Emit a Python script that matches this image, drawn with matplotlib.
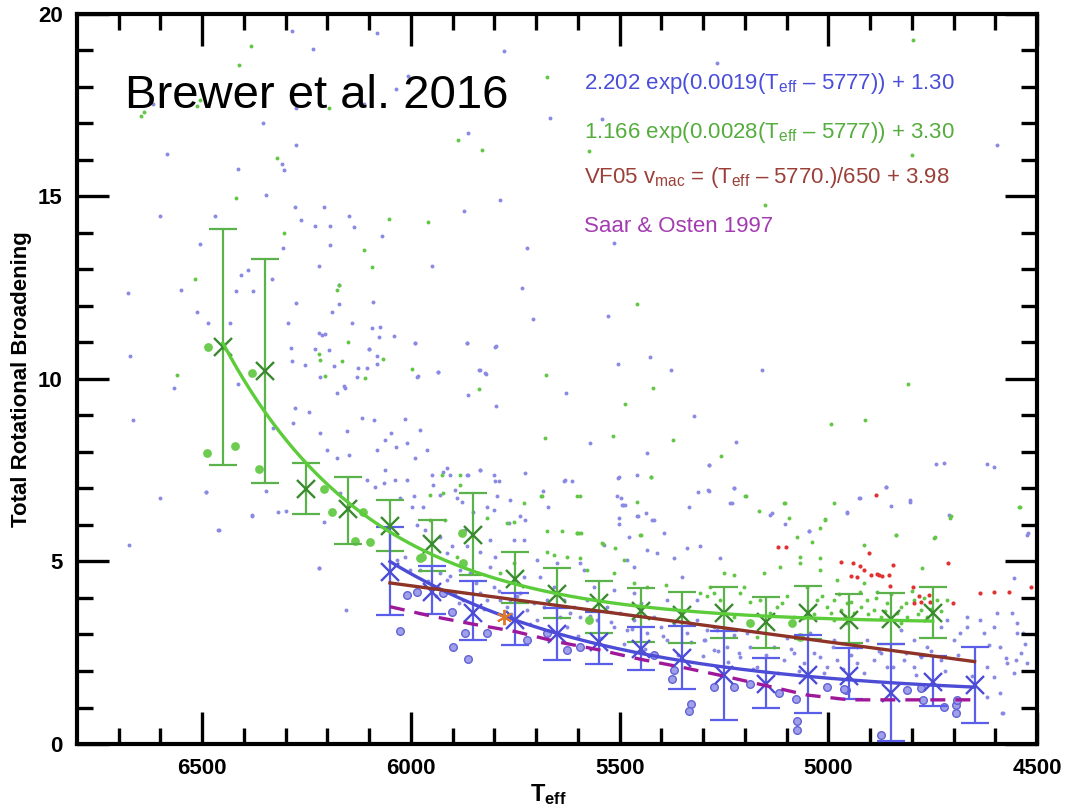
import numpy as np
import matplotlib
matplotlib.use("Agg")
import matplotlib.pyplot as plt

plt.rcParams['font.family'] = ['Liberation Sans', 'DejaVu Sans']
plt.rcParams['mathtext.fontset'] = 'custom'
plt.rcParams['mathtext.rm'] = 'Liberation Sans'
plt.rcParams['mathtext.it'] = 'Liberation Sans:italic'
plt.rcParams['mathtext.bf'] = 'Liberation Sans:bold'

# ---- individual stars (small dots) ----
blue_teff = [6284, 6080, 6235, 5778, 6113, 6035, 6006, 6274, 6617, 6354, 5862, 6584, 6309, 6303,
             6414, 6274, 6348, 5787, 6600, 6468, 6278, 6208, 6149, 6264, 6229, 6193, 6136, 6070,
             5872, 6505, 6194, 6307, 5721, 6406, 6390, 6332, 6220, 5950, 6677, 6551, 6419, 6377,
             6171, 5734, 6513, 6274, 6173, 6091, 5707, 6486, 6433, 6295, 6188, 6142, 6093, 6221,
             6212, 6205, 6076, 5990, 5866, 5797, 6672, 6287, 6229, 6196, 6099, 6126, 6284, 6253,
             6080, 5936, 5837, 5821, 5983, 6217, 6159, 6567, 6414, 5862,
             5268, 5666, 5542, 4596, 5513, 5527, 5503, 5427, 5376, 5158, 5628,
             6666, 6674, 6600, 6490, 6460, 6380, 6221, 6155,
             6491, 6381, 6461, 6221, 6347, 6318, 6298, 6277, 6245, 6329, 6281, 6217, 6201, 6177,
             6149, 6209, 6169, 6105, 6085, 6065, 6081, 6061, 6035, 6009, 5989, 5961, 5922, 5906,
             5866, 5834, 5802, 5790, 5993, 5946, 5890, 5850, 5818, 5762, 6153, 6117, 6089, 6048,
             6013, 5977, 6177, 6157, 6129, 6105, 6081, 6185, 6101, 6073, 6041, 5989, 5934, 5866,
             5822, 5798, 5795, 5834, 5985,
             6061, 6037, 6010, 5949, 5913, 5862, 5834, 5798, 5726, 5634, 5615, 5502, 5458, 5287,
             5506, 5494, 5487, 5438, 5458, 5418, 5502, 5502, 5394, 5478, 5538, 5434, 5410, 5370,
             5338, 5307, 5350, 5482, 5466, 5594, 5586, 5650, 5730, 5754, 5726, 5766, 5802, 5794,
             5738, 5810, 5870, 5866, 5834, 5798, 5913, 5901, 5930, 5965, 5985, 5997, 6025, 5970,
             5930, 5894, 5878,
             6033, 6013, 6001, 5977, 5930, 5913, 5882, 5858, 5894, 5874, 5834, 5818, 5802, 5786,
             5770, 5762, 5738, 5722, 5706, 5698, 5674, 5658, 5642, 5626, 5610, 5594, 5578, 5554,
             5530, 5514, 5498, 5482, 5466, 5434, 5418, 5402, 5386, 5370, 5338, 5314, 5295, 5275,
             5810, 5730, 5690, 5698, 5562, 5514, 5466, 5634, 5386, 5314, 5450,
             5287, 5227, 5287, 5235, 5135, 5047, 4955, 4925, 4863, 4805, 4743, 4724, 4620, 4604,
             4712, 5259, 4524, 4556,
             5291, 5267, 5299, 5275, 5243, 5211, 5187, 5171, 5131, 5107, 5083, 5059, 5019, 5003,
             4979, 4931, 4891, 4859, 4819, 4795, 4779, 4731, 4700, 4684, 4668, 4628, 4604, 4588,
             4572, 4620, 4548, 4540, 4556, 4524, 4588, 4584, 4604, 4636, 4668, 4731, 4716, 4596,
             4548, 4827, 4795, 4763, 5227, 5195, 5099, 5043, 4987, 4931, 4907, 4875,
             4620, 4583, 4550, 4534, 4522, 4862, 4805, 4850, 4927, 4956, 5141, 5104, 5046, 5222,
             5321, 5571, 5435, 5505, 5632, 5683, 5671, 5497, 5493, 5456, 5423, 5333, 5313, 5288,
             5227, 5231,
             5960, 5940, 5905, 5885, 5845, 5825, 5790, 5760, 5745, 5715, 5680, 5660, 5620, 5600,
             5570, 5545, 5520, 5490, 5470, 5440, 5395, 5360, 5330, 5300, 5265, 5240, 5215, 5180,
             5150, 5120, 5090, 5070, 5035, 5010, 4990, 4965, 4945, 4915, 4880, 4845, 4815, 4790,
             4755, 4720, 4690, 4655, 4615, 4575, 4560, 4530]
blue_vbr = [19.52, 19.47, 19.03, 18.97, 17.51, 17.92, 18.28, 17.42, 17.51, 16.99, 16.73, 16.16, 15.88, 15.71,
            15.74, 16.39, 15.04, 14.90, 14.47, 14.47, 14.70, 14.70, 14.45, 14.36, 14.17, 14.17, 14.15, 13.90,
            14.58, 13.70, 13.67, 13.58, 13.58, 12.85, 12.97, 12.73, 13.08, 13.08, 12.35, 12.44, 12.41, 12.39,
            12.58, 12.48, 11.83, 12.07, 12.05, 12.10, 11.64, 11.54, 11.54, 11.54, 11.83, 11.54, 11.39, 11.25,
            11.21, 11.23, 11.13, 10.98, 10.98, 10.89, 10.61, 10.84, 10.81, 10.79, 10.81, 10.29, 10.49, 10.38,
            10.41, 10.18, 10.25, 10.14, 10.08, 10.04, 9.79, 9.75, 9.86, 9.56,
            18.65, 17.14, 17.11, 16.41, 13.73, 11.73, 10.41, 10.59, 10.23, 10.25, 9.61,
            8.86, 5.45, 6.73, 6.91, 5.86, 6.25, 4.81, 3.67,
            6.91, 6.27, 5.86, 4.81, 6.93, 6.36, 6.38, 9.21, 9.08, 8.65, 8.79, 8.51, 8.05, 7.83,
            7.92, 6.09, 6.87, 7.23, 7.05, 7.14, 8.05, 8.33, 8.13, 8.24, 7.83, 8.05, 7.46, 7.37,
            7.37, 7.51, 7.37, 7.19, 6.78, 7.10, 6.73, 6.36, 6.50, 6.68, 8.56, 8.92, 8.88, 8.51,
            8.90, 8.60, 9.61, 9.75, 10.06, 10.29, 10.61, 10.34, 10.81, 11.43, 11.16, 10.98, 10.18, 10.98,
            10.16, 10.88, 9.26, 10.25, 10.06,
            7.51, 7.23, 7.23, 7.37, 7.55, 7.37, 7.51, 7.19, 7.42, 7.19, 7.19, 7.32, 7.37, 7.64,
            6.78, 6.55, 6.55, 6.32, 6.23, 6.12, 6.18, 6.03, 5.77, 5.68, 5.45, 5.32, 5.22, 5.09,
            5.36, 5.41, 4.58, 5.04, 4.86, 4.95, 4.77, 4.95, 5.59, 5.59, 6.14, 6.05, 6.41, 6.78,
            6.23, 5.59, 5.86, 5.41, 5.27, 5.13, 5.22, 5.41, 5.68, 5.86, 6.00, 6.50, 6.73, 6.50,
            6.82, 6.96, 6.64,
            5.04, 5.13, 4.77, 4.77, 4.68, 4.49, 4.77, 4.68, 4.13, 3.95, 4.13, 3.95, 4.31, 3.95,
            3.76, 3.95, 4.13, 3.67, 3.85, 3.40, 3.95, 4.31, 3.49, 3.21, 3.76, 3.49, 3.95, 3.40,
            3.76, 3.21, 3.58, 3.12, 3.40, 3.03, 3.49, 3.21, 2.85, 3.31, 3.03, 3.40, 2.85, 3.21,
            4.86, 4.58, 4.58, 5.04, 4.31, 4.22, 4.13, 3.95, 3.95, 3.95, 3.85,
            7.64, 7.00, 6.94, 6.61, 6.32, 5.82, 6.34, 6.73, 7.05, 6.64, 7.67, 7.69, 7.67, 7.58,
            6.27, 5.09, 5.73, 4.54,
            3.12, 3.12, 2.85, 2.58, 2.67, 2.39, 2.67, 2.12, 2.67, 2.30, 2.48, 2.21, 2.39, 2.12,
            2.30, 2.21, 2.30, 2.12, 2.30, 2.12, 2.39, 2.30, 2.85, 3.03, 3.21, 3.03, 3.21, 2.67,
            2.21, 2.12, 3.03, 2.48, 1.94, 2.21, 1.39, 0.84, 1.84, 3.40, 3.49, 3.21, 3.40, 3.58,
            3.31, 3.12, 2.85, 2.67, 2.99, 3.03, 2.90, 3.03, 2.85, 2.67, 2.85, 2.48,
            1.30, 0.84, 2.30, 3.03, 5.77, 7.05, 6.68, 6.52, 6.73, 6.32, 6.27, 6.03, 5.84, 8.28,
            8.99, 8.25, 7.96, 7.28, 7.23, 6.94, 6.48, 6.73, 6.55, 6.23, 6.14, 6.50, 6.91, 6.96,
            7.00, 6.59,
            4.45, 4.05, 4.60, 3.85, 4.40, 3.70, 4.20, 3.55, 4.05, 3.30, 3.75, 3.10, 3.60, 2.95,
            3.50, 2.90, 3.35, 2.75, 3.15, 2.60, 2.95, 2.45, 2.80, 2.40, 2.55, 2.25, 2.50, 2.05,
            2.45, 1.95, 2.60, 2.00, 2.50, 1.95, 2.65, 2.05, 2.45, 1.95, 2.55, 2.10, 2.50, 1.90,
            2.55, 2.00, 2.45, 1.85, 2.70, 2.35, 3.60, 2.75]

green_teff = [4797, 5675, 5573, 4801, 5153, 5458, 5677, 5419, 4809,
              6383, 6412, 6505, 6513, 6639, 6645, 6196, 5888, 5830, 6320, 6419, 6053, 5959, 6303,
              6111, 6094, 6517, 6177, 6172, 6150, 6221, 6218, 6165, 6066, 5998, 6109, 5837, 6205, 6561,
              5486, 4995, 4913, 5517, 5679, 5372, 5426, 5257, 5198, 5104, 5008, 5019, 4839, 4745,
              5540, 5452, 5601, 5593, 5688, 5595, 4706, 4542,
              5882, 5926, 5882, 5954, 5922, 5818, 5770, 5754, 5730, 5686, 5674, 5638, 5602, 5598,
              5674, 5658, 5626, 5594, 5602, 5542, 5510, 5490, 5450, 5426, 5458, 5390, 5754, 5786,
              5578, 5514, 5466, 5434, 5307, 5283, 5874, 5918, 5890, 5954,
              5291, 5259, 5211, 5187, 5227, 5187, 5171, 5123, 5099, 5083, 5027, 5003, 4987, 4971,
              4955, 4939, 4923, 4907, 4891, 4875, 4859, 4827, 4811, 4795, 4779, 4763, 4716, 4987,
              4955, 4827, 5051, 5067, 5019, 4979, 4915, 4883, 5067, 5115, 5155, 5203, 5251, 5227,
              5075, 5039, 5019, 5199, 5167, 5107, 5095, 5007, 4987, 4915, 4839, 4775, 4747, 4708,
              4544, 5163, 5275,
              5035, 5015, 4995, 4975, 4960, 4945, 4925, 4905, 4885, 4865, 4850, 4835, 4815, 4800,
              4785, 4770, 4755, 4740, 5140, 5110, 5060, 4730]
green_vbr = [19.27, 18.26, 16.23, 16.14, 14.77, 12.05, 10.11, 9.75, 9.86,
             19.10, 18.60, 17.64, 17.48, 17.30, 17.19, 17.42, 16.53, 16.25, 16.05, 14.95, 14.38, 14.28, 13.99,
             13.52, 13.06, 12.73, 12.42, 12.58, 11.02, 10.68, 10.52, 10.50, 10.55, 10.27, 10.02, 9.73, 10.08, 10.11,
             9.32, 8.76, 8.86, 8.42, 8.37, 8.33, 7.31, 7.89, 6.78, 6.61, 6.16, 5.91, 5.73, 5.66,
             5.48, 5.73, 5.77, 5.77, 6.78, 6.78, 6.23, 6.48,
             7.10, 7.37, 7.37, 6.82, 6.87, 6.18, 6.05, 6.09, 6.59, 6.78, 5.82, 5.82, 5.77, 5.77,
             5.27, 5.18, 5.13, 5.09, 6.78, 5.50, 5.36, 5.04, 5.73, 7.32, 6.64, 4.36, 4.95, 4.68,
             4.77, 4.68, 4.40, 4.31, 4.13, 4.31, 5.82, 6.14, 5.13, 6.14,
             4.04, 3.95, 4.13, 3.90, 3.49, 3.31, 2.94, 3.76, 4.04, 3.49, 3.95, 3.76, 3.95, 3.67,
             3.85, 3.58, 3.76, 3.95, 3.67, 3.49, 3.85, 3.76, 3.49, 3.95, 3.67, 3.49, 3.95, 3.40,
             3.31, 3.31, 4.31, 4.95, 4.77, 4.49, 4.40, 4.17, 5.13, 4.86, 4.68, 4.31, 4.68, 4.63,
             5.68, 5.54, 5.09, 6.79, 6.39, 6.61, 6.18, 6.14, 6.61, 5.45, 5.73, 4.81, 5.64, 6.18,
             6.50, 3.95, 4.13,
             3.55, 4.05, 3.60, 4.10, 3.50, 3.90, 4.15, 3.55, 4.00, 3.65, 4.10, 3.60, 3.85, 4.20,
             3.55, 4.00, 3.70, 3.95, 3.60, 3.85, 3.45, 3.65]

red_teff = [5121, 5101, 4887, 4903, 4969, 4925, 4915, 4931, 4899, 4883, 4871, 4855, 4845, 4714,
            4853, 4797, 4784, 4756, 4779, 4795, 4760, 4702, 4636, 4604, 4568, 4514, 4942, 4945, 4879]
red_vbr = [5.39, 5.39, 6.82, 5.24, 4.99, 4.88, 4.77, 4.58, 4.63, 4.66, 4.60, 4.63, 4.90, 4.95,
           4.33, 4.31, 4.04, 3.90, 3.90, 3.85, 4.08, 3.87, 4.13, 4.15, 4.17, 4.29, 4.95, 4.60, 4.63]

# ---- highlighted stars (large circles) ----
bcirc_teff = [6025, 6009, 5985, 5901, 5899, 5864, 5870, 5818, 5330, 5374, 5275, 5227, 5187, 5119,
              5077, 5075, 5003, 4959, 4875, 4773, 4724, 4695, 4694, 5333, 5075, 5722, 5626, 5594,
              5674, 5418, 5370, 5922, 4963, 4811, 4779, 4692]
bcirc_vbr = [3.10, 4.08, 4.17, 3.62, 2.67, 2.33, 3.05, 3.03, 1.10, 1.77, 1.57, 1.57, 1.64, 1.39,
             1.22, 0.63, 1.57, 1.48, 0.25, 1.21, 1.02, 0.84, 1.07, 0.90, 0.38, 2.85, 2.58, 2.67,
             3.03, 2.44, 2.03, 4.13, 1.50, 1.48, 1.53, 1.21]
gcirc_teff = [6485, 6487, 6421, 6381, 6363, 6207, 6189, 6115, 6133, 6097, 5977, 5574, 5187, 5087,
              5878, 5973, 5874, 5067]
gcirc_vbr = [10.88, 7.98, 8.16, 10.17, 7.53, 6.98, 6.35, 6.36, 5.56, 5.53, 5.10, 3.40, 3.31, 3.31,
             5.77, 5.13, 4.95, 2.94]

# ---- binned medians with spread ----
gbin_teff = [6450, 6350, 6250, 6150, 6050, 5950, 5850, 5750, 5650, 5550, 5450, 5350, 5250, 5150,
             5050, 4950, 4850, 4750]
gbin_mid = [10.88, 10.22, 6.98, 6.43, 5.97, 5.48, 5.72, 4.51, 4.10, 3.85, 3.64, 3.53, 3.60, 3.33,
            3.60, 3.39, 3.42, 3.58]
gbin_hi = [14.10, 13.29, 7.69, 7.32, 6.68, 6.14, 6.87, 5.27, 4.82, 4.45, 4.27, 4.15, 4.30, 4.02,
           4.32, 4.12, 4.14, 4.29]
gbin_lo = [7.64, 7.14, 6.30, 5.48, 5.29, 4.74, 4.63, 3.85, 3.45, 3.04, 2.80, 2.76, 2.90, 2.62,
           2.88, 2.76, 2.73, 2.90]

bbin_teff = [6050, 5950, 5850, 5750, 5650, 5550, 5450, 5350, 5250, 5150, 5050, 4950, 4850, 4750, 4650]
bbin_mid = [4.72, 4.17, 3.58, 3.40, 3.01, 2.80, 2.60, 2.35, 1.89, 1.65, 1.89, 1.85, 1.39, 1.70, 1.62]
bbin_hi = [5.94, 4.88, 4.45, 4.13, 3.72, 3.62, 3.21, 3.22, 3.10, 2.35, 2.99, 2.62, 2.75, 2.42, 2.67]
bbin_lo = [3.53, 3.55, 2.85, 2.71, 2.29, 2.18, 2.03, 1.50, 0.65, 0.98, 0.84, 1.24, 0.08, 1.05, 0.58]

# ---- relations ----
blue_fit = (2.202, 0.0019, 5777, 1.30)
green_fit = (1.166, 0.0028, 5777, 3.30)
vf05 = (5770., 650., 3.98)
so97_teff = [6050, 5950, 5850, 5750, 5650, 5550, 5450, 5350, 5250, 5150, 5050, 4950, 4850, 4750, 4650]
so97_vbr = [3.76, 3.50, 3.28, 3.08, 2.80, 2.58, 2.32, 2.10, 1.86, 1.60, 1.34, 1.21, 1.21, 1.21, 1.21]
sun_teff, sun_vbr = 5777, 3.49

c_bdot = '#8a8ae4'
c_gdot = '#62c646'
c_rdot = '#e03232'
c_blue = '#4c4cd6'
c_bbar = '#5a5ee8'
c_gbar = '#5cb24a'
c_gx = '#3a8a30'
c_gline = '#5ccc3a'
c_brown = '#8e3328'
c_purple = '#a0189a'

fig = plt.figure(figsize=(10.66, 8.09), dpi=100)
ax = fig.add_axes([0.072, 0.0803, 0.901, 0.903])

ax.scatter(blue_teff, blue_vbr, s=8, color=c_bdot, linewidths=0, zorder=1)
ax.scatter(green_teff, green_vbr, s=8, color=c_gdot, linewidths=0, zorder=1)
ax.scatter(red_teff, red_vbr, s=9, color=c_rdot, linewidths=0, zorder=1)

ax.scatter(bcirc_teff, bcirc_vbr, s=30, facecolor='#a0a0e8', edgecolor='#6262d8', linewidths=1.0, zorder=2)
ax.scatter(gcirc_teff, gcirc_vbr, s=40, color='#6ccc50', linewidths=0, zorder=2)

gmid = np.array(gbin_mid)
gerr = [gmid - np.array(gbin_lo), np.array(gbin_hi) - gmid]
ax.errorbar(gbin_teff, gmid, yerr=gerr, fmt='none', ecolor=c_gbar, elinewidth=1.6,
            capsize=10, capthick=1.6, zorder=3)
ax.plot(gbin_teff, gmid, 'x', color=c_gx, ms=13, mew=1.7, zorder=4)

bmid = np.array(bbin_mid)
berr = [bmid - np.array(bbin_lo), np.array(bbin_hi) - bmid]
ax.errorbar(bbin_teff, bmid, yerr=berr, fmt='none', ecolor=c_bbar, elinewidth=1.6,
            capsize=10, capthick=1.6, zorder=3)
ax.plot(bbin_teff, bmid, 'x', color=c_blue, ms=13, mew=1.7, zorder=4)

# fitted relations quoted in the key
tg = np.linspace(gbin_teff[0], gbin_teff[-1], 200)
a, k, t0, c = green_fit
ax.plot(tg, a * np.exp(k * (tg - t0)) + c, color=c_gline, lw=2.4, zorder=5)

tb = np.linspace(bbin_teff[0], bbin_teff[-1], 200)
a, k, t0, c = blue_fit
ax.plot(tb, a * np.exp(k * (tb - t0)) + c, color=c_blue, lw=2.4, zorder=5)

t0, div, c = vf05
ax.plot(tb, (tb - t0) / div + c, color=c_brown, lw=2.4, zorder=5)

ax.plot(so97_teff, so97_vbr, color=c_purple, lw=2.4, ls=(0, (4.5, 3)), zorder=5)

ax.plot(sun_teff, sun_vbr, marker=(6, 2, 0), color='#e07a2a', ms=11, mew=1.4, zorder=6)

ax.set_xlim(6800, 4500)
ax.set_ylim(0, 20)
ax.set_xticks([6500, 6000, 5500, 5000, 4500])
ax.set_xticks(np.arange(4600, 6800, 100), minor=True)
ax.set_yticks([0, 5, 10, 15, 20])
ax.set_yticks(np.arange(1, 20, 1), minor=True)

for sp in ax.spines.values():
    sp.set_linewidth(3.0)
ax.tick_params(which='both', direction='in', top=True, right=True, width=2.4)
ax.tick_params(which='major', length=23, pad=10, labelsize=16)
ax.tick_params(which='minor', length=11.5)
for lab in ax.get_xticklabels() + ax.get_yticklabels():
    lab.set_fontweight('bold')

ax.set_xlabel(r'$\mathbf{T_{eff}}$', fontsize=17)
ax.xaxis.set_label_coords(0.491, -0.052)
ax.set_ylabel('Total Rotational Broadening', fontsize=16, fontweight='bold')
ax.yaxis.set_label_coords(-0.047, 0.5)

ax.text(6684, 17.42, 'Brewer et al. 2016', fontsize=34, color='black', va='baseline', zorder=7)

key = [(r'2.202 exp(0.0019(T$_{\rm eff}$ – 5777)) + 1.30', '#4a4ed8', 17.92),
       (r'1.166 exp(0.0028(T$_{\rm eff}$ – 5777)) + 3.30', '#55ad3e', 16.60),
       (r'VF05 v$_{\rm mac}$ = (T$_{\rm eff}$ – 5770.)/650 + 3.98', '#9a4038', 15.36),
       ('Saar & Osten 1997', '#a33cb0', 14.03)]
for txt, col, yv in key:
    ax.text(5585, yv, txt, fontsize=16, color=col, va='baseline', zorder=7)

fig.savefig('out.png', dpi=100)
